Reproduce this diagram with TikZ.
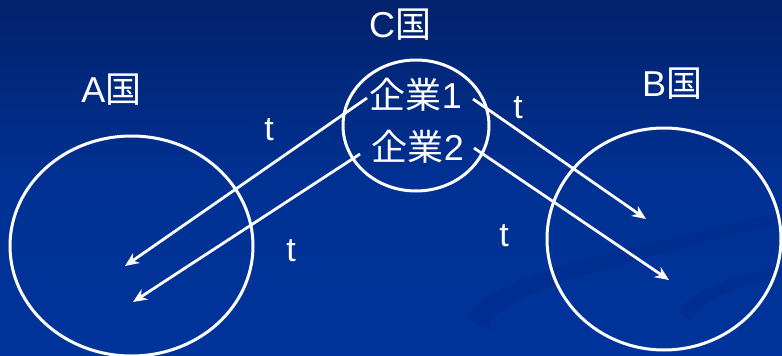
\documentclass[tikz,border=0pt]{standalone}
\usepackage{fontspec}
\setmainfont{Liberation Sans}
\newfontfamily\jpfont{Noto Sans CJK JP}
\usetikzlibrary{arrows.meta,shapes.geometric}
\definecolor{bgtop}{RGB}{2,34,108}
\definecolor{bgbot}{RGB}{0,52,156}
\definecolor{swirl}{RGB}{0,42,138}
\tikzset{
  lbl/.style={text=white, font=\fontsize{36}{38}\selectfont, inner sep=0pt},
  tlbl/.style={text=white, font=\fontsize{34}{36}\selectfont, inner sep=0pt},
  circ/.style={draw=white, line width=3pt, ellipse, inner sep=0pt},
  flow/.style={draw=white, line width=2.8pt, -{Stealth[length=14pt,width=12pt]}}
}
\begin{document}
\begin{tikzpicture}[x=1pt,y=-1pt]
\useasboundingbox (0,0) rectangle (782,356);
\shade[top color=bgtop, bottom color=bgbot, middle color=bgbot!80!bgtop] (0,0) rectangle (782,356);
% faint swirl
\begin{scope}
\clip (0,0) rectangle (782,356);
\fill[swirl, opacity=0.45] (468,320) .. controls (470,280) and (620,250) .. (782,212)
  -- (782,224) .. controls (630,262) and (488,292) .. (490,330) -- cycle;
\fill[swirl, opacity=0.45] (678,312) .. controls (690,288) and (740,275) .. (782,266)
  -- (782,276) .. controls (745,285) and (700,296) .. (692,322) -- cycle;
\end{scope}
% ellipses
\node[circ, minimum width=243pt, minimum height=220pt] (A) at (131.5,246) {};
\node[circ, minimum width=234pt, minimum height=222pt] (B) at (664,239) {};
\node[circ, minimum width=146pt, minimum height=131pt] (C) at (416,125.5) {};
% labels
\node[lbl] (Alab) at (111.5,90) {A{\jpfont 国}};
\node[lbl] (Blab) at (672,84) {B{\jpfont 国}};
\node[lbl] (Clab) at (400,25) {C{\jpfont 国}};
\node[lbl] (f1) at (416,95) {{\jpfont 企業}1};
\node[lbl] (f2) at (418,147) {{\jpfont 企業}2};
% arrow endpoints
\coordinate (s1) at (367,98);
\coordinate (e1) at (125,266);
\coordinate (s2) at (360,154);
\coordinate (e2) at (133,302);
\coordinate (s3) at (473,99);
\coordinate (e3) at (646,219);
\coordinate (s4) at (474,148);
\coordinate (e4) at (669,280);
\draw[flow] (s1) -- (e1);
\draw[flow] (s2) -- (e2);
\draw[flow] (s3) -- (e3);
\draw[flow] (s4) -- (e4);
% t labels
\node[tlbl] (t1) at (269,130) {t};
\node[tlbl] (t2) at (291,251) {t};
\node[tlbl] (t3) at (518,108) {t};
\node[tlbl] (t4) at (504,236) {t};
\end{tikzpicture}
\end{document}
